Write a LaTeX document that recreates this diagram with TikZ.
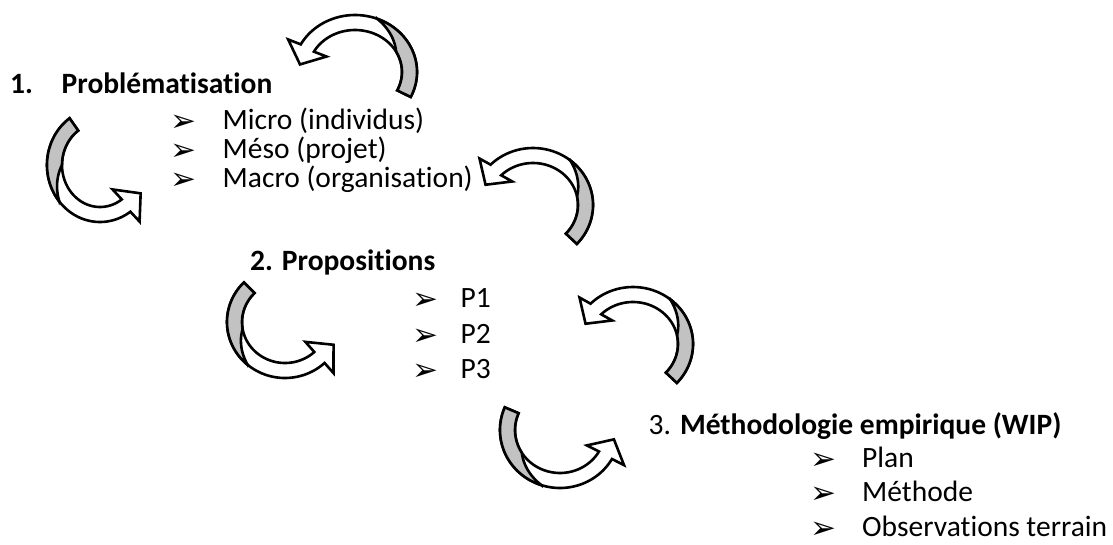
\documentclass[tikz,border=0pt]{standalone}
\usepackage{fontspec}
\setmainfont{Carlito}[Ligatures=NoCommon]
\newfontfamily\djv{DejaVu Sans}
\tikzset{
  txt/.style={anchor=base west, inner sep=0pt, font=\fontsize{29.5}{34}\selectfont},
  bul/.style={anchor=base west, inner sep=0pt, font=\djv\fontsize{31}{34}\selectfont},
  arrbody/.style={fill=white, draw=black, line width=2.6pt},
  arrback/.style={fill=black!24, draw=black, line width=2.6pt},
}
\def\caW{15}
\def\caGA{95}
\def\caGB{55}
% #1 cx #2 cy(screen) #3 rx #4 ry #5 tail angle #6 head angle #7 head direction #8 head half width #9 head length
\newcommand\curvarr[9]{%
\begin{scope}[shift={(#1,-#2)}]
\pgfmathsetmacro\caRxo{#3}\pgfmathsetmacro\caRyo{#4}%
\pgfmathsetmacro\caRxi{#3-\caW}\pgfmathsetmacro\caRyi{#4-\caW}%
\pgfmathsetmacro\caMx{(#3-\caW/2)*cos(#6)}\pgfmathsetmacro\caMy{(#4-\caW/2)*sin(#6)}%
\pgfmathsetmacro\caOx{\caMx+#8*sin(#7)}\pgfmathsetmacro\caOy{\caMy-#8*cos(#7)}%
\pgfmathsetmacro\caIx{\caMx-#8*sin(#7)}\pgfmathsetmacro\caIy{\caMy+#8*cos(#7)}%
\pgfmathsetmacro\caTx{\caMx+#9*cos(#7)}\pgfmathsetmacro\caTy{\caMy+#9*sin(#7)}%
\pgfmathsetmacro\caGa{#5+\caGA}%
\pgfmathsetmacro\caGd{\caGA-\caGB}%
\filldraw[arrbody] plot[domain=#5:#6,samples=60] ({\caRxo*cos(\x)},{\caRyo*sin(\x)})
  -- (\caOx,\caOy) -- (\caTx,\caTy) -- (\caIx,\caIy)
  -- plot[domain=#6:#5,samples=60] ({\caRxi*cos(\x)},{\caRyi*sin(\x)}) -- cycle;
\filldraw[arrback] plot[domain=#5:\caGa,samples=40] ({\caRxo*cos(\x)},{\caRyo*sin(\x)})
  -- plot[domain=\caGa:#5,samples=40] ({(\caRxo-\caW*min(1,(\caGa-\x)/\caGd))*cos(\x)},{(\caRyo-\caW*min(1,(\caGa-\x)/\caGd))*sin(\x)}) -- cycle;
\end{scope}}
\begin{document}
\begin{tikzpicture}[x=1pt,y=1pt]
\useasboundingbox (0,0) rectangle (1113,-544);
% curved arrows
\curvarr{355}{72}{62}{57}{-26}{151}{246}{21}{18}  % A
\curvarr{100}{165}{53}{57}{125}{305}{40}{21}{19}  % B
\curvarr{533}{205}{60}{57}{-43}{135}{235}{20}{18} % C
\curvarr{285}{322}{58}{56}{135}{313}{42}{21}{19}  % D
\curvarr{633}{344}{60}{57}{-43}{135}{235}{20}{18} % E
\curvarr{560}{430}{60}{58}{157}{330}{62}{21}{18}  % F
% section 1
\node[txt] (n1) at (10,-93) {\textbf{1.}};
\node[txt] (t1) at (61.5,-93) {\textbf{Problématisation}};
\node[bul] (b11) at (170,-131) {➢};
\node[bul] (b12) at (170,-160) {➢};
\node[bul] (b13) at (170,-189) {➢};
\node[txt] (i11) at (222.5,-129) {Micro (individus)};
\node[txt] (i12) at (222.5,-158) {Méso (projet)};
\node[txt] (i13) at (222.5,-187) {Macro (organisation)};
% section 2
\node[txt] (t2) at (250,-270) {\textbf{2. Propositions}};
\node[bul] (b21) at (412,-309) {➢};
\node[bul] (b22) at (412,-345) {➢};
\node[bul] (b23) at (412,-380) {➢};
\node[txt] (i21) at (460.5,-307) {P1};
\node[txt] (i22) at (460.5,-343) {P2};
\node[txt] (i23) at (460.5,-378) {P3};
% section 3
\node[txt] (t3) at (648.5,-434) {3. \textbf{Méthodologie empirique (WIP)}};
\node[bul] (b31) at (810,-469) {➢};
\node[bul] (b32) at (810,-503.5) {➢};
\node[bul, text depth=0pt] (b33) at (810,-538) {➢};
\node[txt] (i31) at (862,-467) {Plan};
\node[txt] (i32) at (862,-501.5) {Méthode};
\node[txt, text depth=0pt] (i33) at (862,-536) {Observations terrain};
\end{tikzpicture}
\end{document}
